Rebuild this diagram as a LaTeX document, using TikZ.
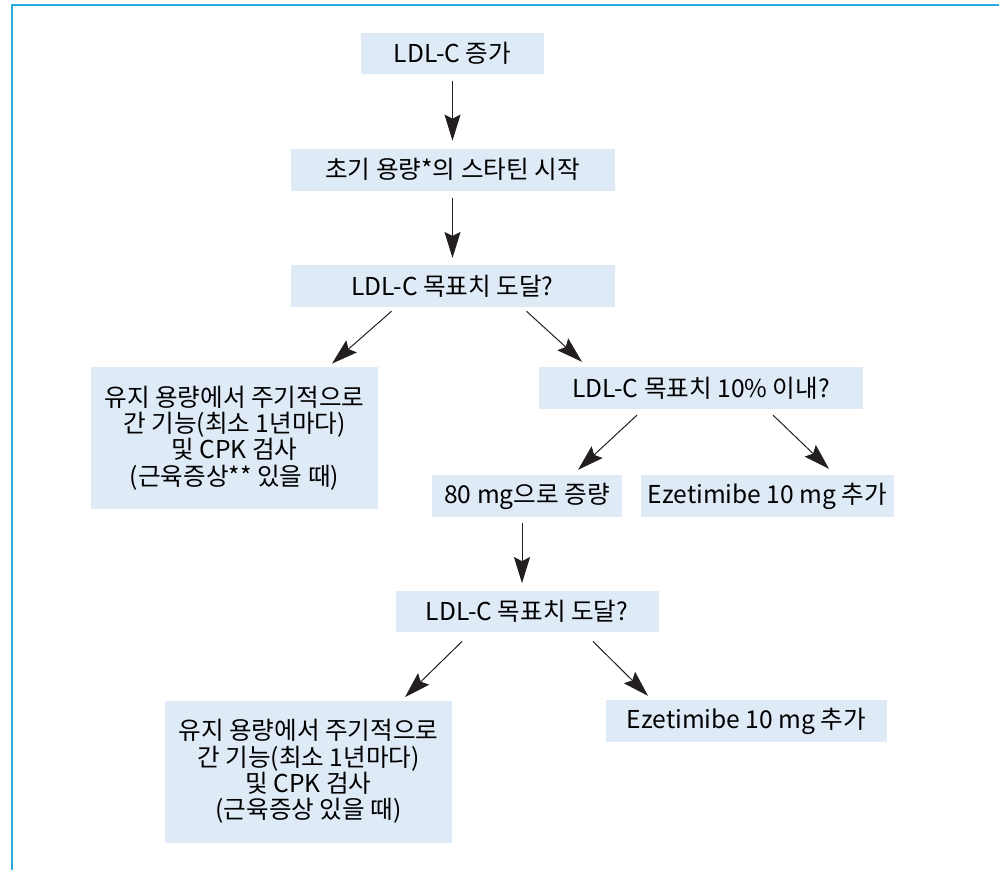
\documentclass[tikz,border=0pt]{standalone}
\usepackage{fontspec}
\setmainfont{Noto Sans CJK KR}
\usepackage{tikz}
\usetikzlibrary{arrows.meta, positioning, calc}
\definecolor{framecol}{RGB}{41,171,226}
\definecolor{boxfill}{RGB}{222,235,247}
\definecolor{arrcol}{RGB}{35,31,32}

\begin{document}
\begin{tikzpicture}[
      x=0.5pt, y=-0.5pt,
      node distance = 37pt,
      font=\fontsize{12.3}{13.2}\selectfont,
      base/.style = {fill=boxfill, inner sep=0pt, align=center, minimum height=20.75pt},
      % --- Caixas ---
      qbox/.style = {base, minimum width=#1},
      notebox/.style = {base, minimum width=143.5pt, minimum height=71pt},
      arrow/.style = {draw=arrcol, line width=0.5pt, -{Stealth[length=13pt, width=8pt, inset=2pt]}},
      frame/.style = {draw=framecol, line width=0.8pt}
    ]

      \useasboundingbox (0,0) rectangle (999,870);
      \draw [frame] (11.7,870) |- (999,5.3);

      % --- coluna principal ---
      \node [qbox=91.5pt] (rise) at (452.5,53.5) {LDL-C 증가};
      \node [qbox=162pt, below=of rise] (statin) {초기 용량*의 스타틴 시작};
      \node [qbox=162pt, below=of statin] (goal1) {LDL-C 목표치 도달?};

      \node [notebox] (keep1) at (234.5,438) {유지 용량에서 주기적으로\\간 기능(최소 1년마다)\\및 CPK 검사\\(근육증상** 있을 때)};
      \node [qbox=162pt] (near) at (701,388) {LDL-C 목표치 10\% 이내?};

      \node [qbox=95pt] (dose80) at (527,496) {80 mg으로 증량};
      \node [qbox=126.5pt] (ezet1) at (767.5,496) {Ezetimibe 10 mg 추가};

      \node [qbox=131.5pt, below=36.5pt of dose80] (goal2) {LDL-C 목표치 도달?};
      \node [qbox=140.5pt] (ezet2) at (746.5,721) {Ezetimibe 10 mg 추가};
      \node [notebox] (keep2) at (308.5,771.5) {유지 용량에서 주기적으로\\간 기능(최소 1년마다)\\및 CPK 검사\\(근육증상 있을 때)};

      % --- Setas ---
      \draw [arrow] ($(rise.south)+(0,6)$) -- ($(statin.north)+(0,-8)$);
      \draw [arrow] ($(statin.south)+(0,7)$) -- ($(goal1.north)+(0,-7)$);
      \draw [arrow] ($(goal1.south)+(-61,4)$) -- ($(keep1.north)+(97.5,-3)$);
      \draw [arrow] ($(goal1.south)+(74,4)$) -- ($(near.north)+(-119,-5)$);
      \draw [arrow] ($(near.south)+(-64,6)$) -- ($(dose80.north)+(51,-5)$);
      \draw [arrow] ($(near.south)+(72,6)$) -- ($(ezet1.north)+(61.5,-6)$);
      \draw [arrow] ($(dose80.south)+(-5,6)$) -- ($(goal2.north)+(-5,-7)$);
      \draw [arrow] ($(goal2.south)+(-65,9)$) -- ($(keep2.north)+(96.5,-3)$);
      \draw [arrow] ($(goal2.south)+(66,9)$) -- ($(ezet2.north)+(-98.5,-4)$);

    \end{tikzpicture}
\end{document}
